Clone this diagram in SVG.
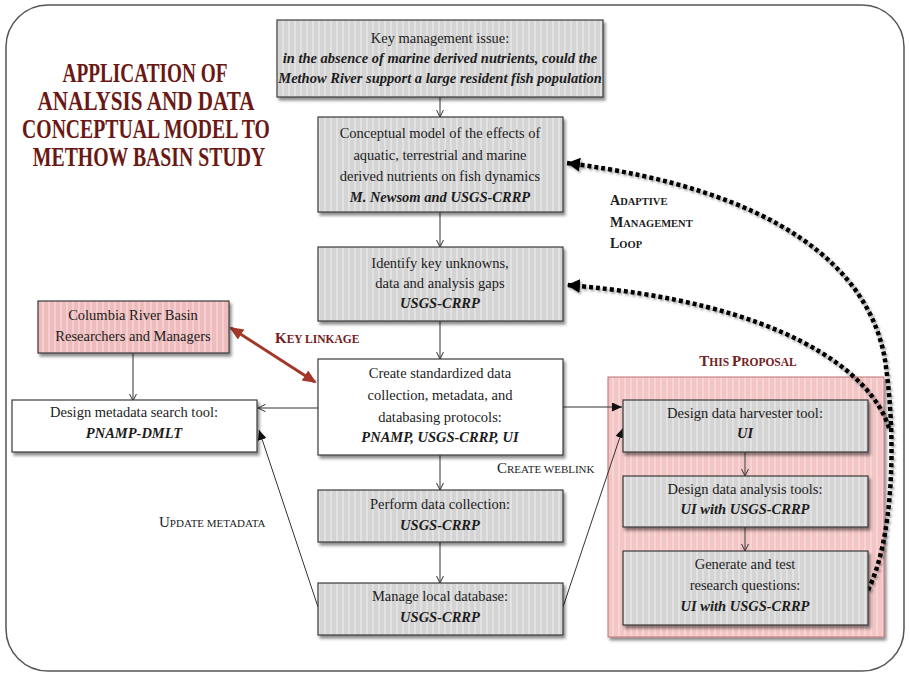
<svg xmlns="http://www.w3.org/2000/svg" width="910" height="676" viewBox="0 0 910 676" font-family="'Liberation Serif', serif">
<defs>
<style>
.box{stroke:#3a3a3a;stroke-width:1.2;filter:url(#sh)}
.wbox{fill:#ffffff;stroke:#3a3a3a;stroke-width:1.2;filter:url(#sh)}
.g{fill:url(#gray)}
.t{font-family:"Liberation Serif",serif;font-size:14.5px;fill:#1c1c1c;text-anchor:middle}
.i{font-style:italic;font-weight:bold}
.conn{stroke:#333;stroke-width:1;fill:none}
.dots{stroke:#000;stroke-width:4.5;fill:none;stroke-dasharray:4 3;filter:url(#sh2)}
.lbl{font-family:"Liberation Serif",serif;fill:#1c1c1c}
.red{fill:#74201c;font-weight:bold}
.title{font-family:"Liberation Serif",serif;font-weight:bold;font-size:27px;fill:#6a1814;text-anchor:middle}
</style>
<pattern id="gray" width="6" height="10" patternUnits="userSpaceOnUse"><rect width="6" height="10" fill="#d4d4d4"/><rect width="2" height="10" fill="#e2e2e2"/></pattern>
<pattern id="pink" width="6" height="10" patternUnits="userSpaceOnUse"><rect width="6" height="10" fill="#eebcbc"/><rect width="2" height="10" fill="#f5cfcf"/></pattern>
<pattern id="pinkbg" width="6" height="10" patternUnits="userSpaceOnUse"><rect width="6" height="10" fill="#f3c5c5"/><rect width="2" height="10" fill="#f8d5d5"/></pattern>
<filter id="sh" x="-10%" y="-10%" width="130%" height="140%"><feDropShadow dx="2" dy="3" stdDeviation="1.6" flood-color="#000" flood-opacity="0.45"/></filter>
<filter id="sh2" x="-10%" y="-10%" width="130%" height="130%"><feDropShadow dx="1.5" dy="2" stdDeviation="1.2" flood-color="#000" flood-opacity="0.35"/></filter>
<marker id="open" markerWidth="10" markerHeight="10" refX="7.5" refY="4" orient="auto" markerUnits="userSpaceOnUse"><path d="M0,0.3 L7.5,4 L0,7.7" fill="none" stroke="#333" stroke-width="1"/></marker>
<marker id="fill" markerWidth="12" markerHeight="10" refX="10" refY="4.5" orient="auto" markerUnits="userSpaceOnUse"><path d="M0,0 L10,4.5 L0,9 z" fill="#111"/></marker>
<marker id="dot" markerWidth="16" markerHeight="16" refX="13" refY="7" orient="auto" markerUnits="userSpaceOnUse"><path d="M0,0 L13,7 L0,14 z" fill="#000"/></marker>
<marker id="redh" markerWidth="16" markerHeight="14" refX="12" refY="6" orient="auto-start-reverse" markerUnits="userSpaceOnUse"><path d="M0,0 L14,6 L0,12 z" fill="#a3382a"/></marker>
</defs>

<rect x="6" y="5" width="898" height="666" rx="42" fill="#ffffff" stroke="#555" stroke-width="1.5"/>

<g id="title">
<text class="title" transform="translate(145,82) scale(0.74,1)" x="0" y="0" textLength="223" lengthAdjust="spacingAndGlyphs">APPLICATION OF</text>
<text class="title" transform="translate(146,110) scale(0.74,1)" x="0" y="0" textLength="293" lengthAdjust="spacingAndGlyphs">ANALYSIS AND DATA</text>
<text class="title" transform="translate(146,138) scale(0.74,1)" x="0" y="0" textLength="335" lengthAdjust="spacingAndGlyphs">CONCEPTUAL MODEL TO</text>
<text class="title" transform="translate(149,166) scale(0.74,1)" x="0" y="0" textLength="314" lengthAdjust="spacingAndGlyphs">METHOW BASIN STUDY</text>
</g>

<g id="proposal">
<rect x="608" y="377" width="276" height="260" fill="url(#pinkbg)" stroke="#c07070" stroke-width="1" filter="url(#sh)"/>
<text class="lbl red" x="748" y="366" text-anchor="middle"><tspan font-size="15">T</tspan><tspan font-size="11.5">HIS </tspan><tspan font-size="15">P</tspan><tspan font-size="11.5">ROPOSAL</tspan></text>
</g>

<g id="connectors">
<line class="conn" x1="440" y1="97" x2="440" y2="117" marker-end="url(#open)"/>
<line class="conn" x1="440" y1="212" x2="440" y2="247" marker-end="url(#open)"/>
<line class="conn" x1="440" y1="321" x2="440" y2="359" marker-end="url(#open)"/>
<line class="conn" x1="440" y1="455" x2="440" y2="490" marker-end="url(#open)"/>
<line class="conn" x1="440" y1="542" x2="440" y2="583" marker-end="url(#open)"/>
<line class="conn" x1="133" y1="353" x2="133" y2="401" marker-end="url(#open)"/>
<line class="conn" x1="318" y1="408" x2="258" y2="408" marker-end="url(#open)"/>
<line class="conn" x1="745" y1="452" x2="745" y2="476" marker-end="url(#open)"/>
<line class="conn" x1="745" y1="527" x2="745" y2="551" marker-end="url(#open)"/>
<line class="conn" x1="563" y1="407" x2="622" y2="407" marker-end="url(#fill)"/>
<line class="conn" x1="318" y1="607" x2="259" y2="430" marker-end="url(#fill)"/>
<line class="conn" x1="563" y1="607" x2="623" y2="428" marker-end="url(#fill)"/>
<line x1="231" y1="328" x2="315" y2="382" stroke="#a3382a" stroke-width="3" marker-start="url(#redh)" marker-end="url(#redh)"/>
<path class="dots" d="M868,590 C893,540 897,440 885,360 C870,270 780,190 567,163" marker-end="url(#dot)"/>
<path class="dots" d="M889,428 C872,372 782,302 567,285" marker-end="url(#dot)"/>
<text class="lbl red" x="275" y="343"><tspan font-size="15">K</tspan><tspan font-size="11.5">EY LINKAGE</tspan></text>
<text class="lbl" x="497" y="473"><tspan font-size="15">C</tspan><tspan font-size="11">REATE WEBLINK</tspan></text>
<text class="lbl" x="159" y="527"><tspan font-size="15">U</tspan><tspan font-size="11">PDATE METADATA</tspan></text>
<text class="lbl" font-weight="bold" x="610" y="205"><tspan font-size="14">A</tspan><tspan font-size="10.5">DAPTIVE</tspan></text>
<text class="lbl" font-weight="bold" x="610" y="227"><tspan font-size="14">M</tspan><tspan font-size="10.5">ANAGEMENT</tspan></text>
<text class="lbl" font-weight="bold" x="610" y="248"><tspan font-size="14">L</tspan><tspan font-size="10.5">OOP</tspan></text>
</g>

<g id="key-issue">
<rect class="box g" x="277" y="20" width="326" height="77"/>
<text class="t" x="440" y="43">Key management issue:</text>
<text class="t i" x="440" y="63" font-size="13.5">in the absence of marine derived nutrients, could the</text>
<text class="t i" x="440" y="83" font-size="13.5">Methow River support a large resident fish population</text>
</g>

<g id="conceptual-model">
<rect class="box g" x="318" y="117" width="245" height="95"/>
<text class="t" x="440" y="138">Conceptual model of the effects of</text>
<text class="t" x="440" y="160">aquatic, terrestrial and marine</text>
<text class="t" x="440" y="181">derived nutrients on fish dynamics</text>
<text class="t i" x="440" y="202">M. Newsom and USGS-CRRP</text>
</g>

<g id="identify">
<rect class="box g" x="318" y="247" width="245" height="74"/>
<text class="t" x="440" y="268">Identify key unknowns,</text>
<text class="t" x="440" y="288">data and analysis gaps</text>
<text class="t i" x="440" y="308">USGS-CRRP</text>
</g>

<g id="create-protocols">
<rect class="wbox" x="318" y="359" width="245" height="96"/>
<text class="t" x="440" y="378">Create standardized data</text>
<text class="t" x="440" y="400">collection, metadata, and</text>
<text class="t" x="440" y="422">databasing protocols:</text>
<text class="t i" x="440" y="442">PNAMP, USGS-CRRP, UI</text>
</g>

<g id="perform">
<rect class="box g" x="318" y="490" width="245" height="52"/>
<text class="t" x="440" y="509">Perform data collection:</text>
<text class="t i" x="440" y="530">USGS-CRRP</text>
</g>

<g id="manage">
<rect class="box g" x="318" y="583" width="245" height="52"/>
<text class="t" x="440" y="601">Manage local database:</text>
<text class="t i" x="440" y="622">USGS-CRRP</text>
</g>

<g id="columbia">
<rect class="box" x="38" y="301" width="191" height="52" fill="url(#pink)" stroke="#a04848"/>
<text class="t" x="133" y="320">Columbia River Basin</text>
<text class="t" x="133" y="341">Researchers and Managers</text>
</g>

<g id="metadata-tool">
<rect class="wbox" x="12" y="400" width="245" height="52"/>
<text class="t" x="134" y="417">Design metadata search tool:</text>
<text class="t i" x="134" y="438">PNAMP-DMLT</text>
</g>

<g id="harvester">
<rect class="box g" x="623" y="400" width="245" height="52"/>
<text class="t" x="745" y="418">Design data harvester tool:</text>
<text class="t i" x="745" y="438">UI</text>
</g>

<g id="analysis-tools">
<rect class="box g" x="623" y="476" width="245" height="51"/>
<text class="t" x="745" y="494">Design data analysis tools:</text>
<text class="t i" x="745" y="514">UI with USGS-CRRP</text>
</g>

<g id="research-questions">
<rect class="box g" x="623" y="551" width="245" height="74"/>
<text class="t" x="745" y="569">Generate and test</text>
<text class="t" x="745" y="590">research questions:</text>
<text class="t i" x="745" y="611">UI with USGS-CRRP</text>
</g>
</svg>
